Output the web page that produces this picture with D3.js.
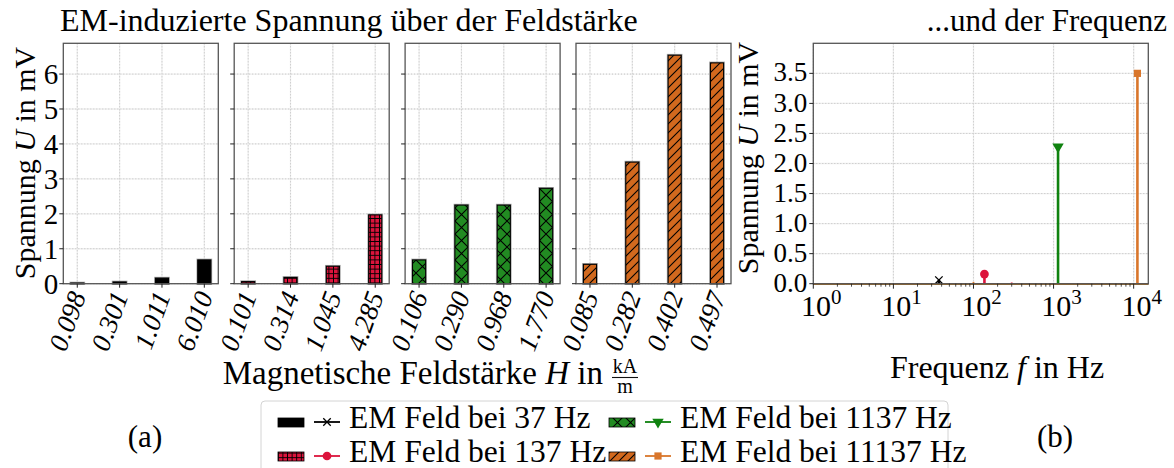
<!DOCTYPE html>
<html>
<head>
<meta charset="utf-8">
<script src="https://cdn.jsdelivr.net/npm/d3@7"></script>
<style>
  body { margin: 0; background: #fff; }
  svg { display: block; font-family: "Liberation Serif", "Times New Roman", serif; }
</style>
</head>
<body>
<svg id="chart" width="1174" height="468"></svg>
<script>
// field strength categories (kA/m) per excitation frequency
const H_37 = ['0.098', '0.301', '1.011', '6.010'];
const H_137 = ['0.101', '0.314', '1.045', '4.285'];
const H_1137 = ['0.106', '0.290', '0.968', '1.770'];
const H_11137 = ['0.085', '0.282', '0.402', '0.497'];

// induced voltage in mV
const U_37 = [0.02, 0.05, 0.16, 0.68];
const U_137 = [0.06, 0.18, 0.50, 1.97];
const U_1137 = [0.68, 2.25, 2.25, 2.73];
const U_11137 = [0.555, 3.48, 6.54, 6.32];

// right plot: voltage over frequency
const FREQS = [37, 137, 1137, 11137];
const U_FREQ = [0.06, 0.16, 2.28, 3.50];
const SMALL_FREQS = [100, 300];
const SMALL_U = [0.03, 0.02];
const SMALL_SERIES = [3, 1];

const SERIES_NAMES = ['EM Feld bei 37 Hz', 'EM Feld bei 137 Hz', 'EM Feld bei 1137 Hz', 'EM Feld bei 11137 Hz'];
const BAR_COLORS = ['#000000', '#dc143c', '#228b22', '#d2691e'];
const STEM_COLORS = ['#000000', '#dc143c', '#0f820f', '#d9762b'];
const HATCHES = [null, 'hatch-plus', 'hatch-x', 'hatch-slash'];

const LEFT_TICKS = d3.range(0, 7);
const RIGHT_TICKS = d3.range(0, 3.51, 0.5);
const LOG_TICKS = [1, 10, 100, 1000, 10000];

const svg= d3.select('#chart');
const TOP= 43.3, BOTTOM= 283.7;
const PANEL_W= 155, PANEL_GAP= 15.9, PANEL_X0= 63.3;
const GRID= '#b8b8b8', FRAME= '#555';

// hatch patterns
const defs= svg.append('defs');
function pattern(id, size, bg, d, sw) {
  const p= defs.append('pattern').attr('id', id)
    .attr('patternUnits', 'userSpaceOnUse')
    .attr('width', size).attr('height', size);
  p.append('rect').attr('width', size).attr('height', size).attr('fill', bg);
  p.append('path').attr('d', d).attr('stroke', '#000').attr('stroke-width', sw).attr('fill', 'none');
}
pattern('hatch-plus', 4.6, BAR_COLORS[1], 'M0,2.3H4.6M2.3,0V4.6', 0.9);
pattern('hatch-x', 13, BAR_COLORS[2], 'M0,0L13,13M13,0L0,13', 1.1);
pattern('hatch-slash', 9, BAR_COLORS[3], 'M0,9L9,0M-2,2L2,-2M7,11L11,7', 1.1);
const fillFor= i => HATCHES[i] ? `url(#${HATCHES[i]})` : BAR_COLORS[i];

function gridLine(g, x1, y1, x2, y2) {
  g.append('line').attr('x1', x1).attr('y1', y1).attr('x2', x2).attr('y2', y2)
    .attr('stroke', '#efefef').attr('stroke-width', 1.3);
  g.append('line').attr('x1', x1).attr('y1', y1).attr('x2', x2).attr('y2', y2)
    .attr('stroke', GRID).attr('stroke-width', 0.8).attr('stroke-dasharray', '1,2');
}

// ---------- left: four bar panels ----------
const yBar= d3.scaleLinear().domain([0, 6.88]).range([BOTTOM, TOP]);
const cats= [H_37, H_137, H_1137, H_11137];
const vals= [U_37, U_137, U_1137, U_11137];

cats.forEach((labels, i) => {
  const x0= PANEL_X0+i*(PANEL_W+PANEL_GAP);
  const x= d3.scaleLinear().domain([-0.33, 3.33]).range([x0, x0+PANEL_W]);
  const bw= x(0.31)-x(0);
  const g= svg.append('g');

  LEFT_TICKS.forEach(t => gridLine(g, x0, yBar(t), x0+PANEL_W, yBar(t)));
  labels.forEach((_, k) => gridLine(g, x(k), TOP, x(k), BOTTOM));

  const data= labels.map((l, k) => ({ k, v: vals[i][k] }));
  g.selectAll('rect.halo').data(data).join('rect')
    .attr('x', d => x(d.k)-bw/2).attr('y', d => yBar(d.v))
    .attr('width', bw).attr('height', d => BOTTOM-yBar(d.v))
    .attr('fill', 'none').attr('stroke', '#aaa').attr('stroke-width', 2.6);
  g.selectAll('rect.bar').data(data).join('rect')
    .attr('x', d => x(d.k)-bw/2).attr('y', d => yBar(d.v))
    .attr('width', bw).attr('height', d => BOTTOM-yBar(d.v))
    .attr('fill', fillFor(i)).attr('stroke', '#000').attr('stroke-width', 1.1);

  g.append('rect').attr('x', x0).attr('y', TOP).attr('width', PANEL_W).attr('height', BOTTOM-TOP)
    .attr('fill', 'none').attr('stroke', FRAME).attr('stroke-width', 1.3);

  // y ticks
  LEFT_TICKS.forEach(t => {
    g.append('line').attr('x1', x0-4).attr('x2', x0).attr('y1', yBar(t)).attr('y2', yBar(t))
      .attr('stroke', '#222').attr('stroke-width', 1);
    if (i === 0) {
      g.append('text').attr('x', x0-5).attr('y', yBar(t)).attr('dy', '0.35em')
        .attr('text-anchor', 'end').attr('font-size', 29).text(t);
    }
  });
  // x ticks + rotated labels
  labels.forEach((l, k) => {
    g.append('line').attr('x1', x(k)).attr('x2', x(k)).attr('y1', BOTTOM).attr('y2', BOTTOM+4)
      .attr('stroke', '#222').attr('stroke-width', 1);
    g.append('text')
      .attr('transform', `translate(${x(k)+9},${BOTTOM+12}) rotate(-70)`)
      .attr('text-anchor', 'end').attr('font-size', 27).attr('font-style', 'italic')
      .text(l);
  });
});

// ---------- right: stems over frequency ----------
const RL= 813.3, RR= 1148.3;
const xf= d3.scaleLog().domain([1, 15230]).range([RL, RR]);
const yf= d3.scaleLinear().domain([0, 4]).range([BOTTOM, TOP]);
const gr= svg.append('g');

RIGHT_TICKS.forEach(t => gridLine(gr, RL, yf(t), RR, yf(t)));
LOG_TICKS.forEach(t => gridLine(gr, xf(t), TOP, xf(t), BOTTOM));

// baselines
STEM_COLORS.forEach(c => {
  gr.append('line').attr('x1', RL).attr('x2', RR).attr('y1', yf(0)).attr('y2', yf(0))
    .attr('stroke', c).attr('stroke-width', 1.6);
});
// small near-zero stems
SMALL_FREQS.forEach((f, j) => {
  gr.append('line').attr('x1', xf(f)).attr('x2', xf(f)).attr('y1', yf(0)).attr('y2', yf(SMALL_U[j]))
    .attr('stroke', STEM_COLORS[SMALL_SERIES[j]]).attr('stroke-width', 1.8);
});

const sym= [d3.symbolX, d3.symbolCircle, d3.symbolTriangle, d3.symbolSquare];
const symSize= [38, 60, 56, 52];
function marker(g, i, cx, cy) {
  const s= g.append('path')
    .attr('d', d3.symbol().type(sym[i]).size(symSize[i])())
    .attr('transform', `translate(${cx},${cy})${i === 2 ? ' rotate(180)' : ''}`);
  if (i === 0) s.attr('fill', 'none').attr('stroke', STEM_COLORS[0]).attr('stroke-width', 1.3);
  else s.attr('fill', STEM_COLORS[i]);
}

FREQS.forEach((f, i) => {
  gr.append('line').attr('x1', xf(f)).attr('x2', xf(f)).attr('y1', yf(0)).attr('y2', yf(U_FREQ[i]))
    .attr('stroke', STEM_COLORS[i]).attr('stroke-width', 2.6);
  marker(gr, i, xf(f), yf(U_FREQ[i]));
});

gr.append('rect').attr('x', RL).attr('y', TOP).attr('width', RR-RL).attr('height', BOTTOM-TOP)
  .attr('fill', 'none').attr('stroke', FRAME).attr('stroke-width', 1.3);

RIGHT_TICKS.forEach(t => {
  gr.append('line').attr('x1', RL-4).attr('x2', RL).attr('y1', yf(t)).attr('y2', yf(t))
    .attr('stroke', '#222').attr('stroke-width', 1);
  gr.append('text').attr('x', RL-6).attr('y', yf(t)).attr('dy', '0.3em')
    .attr('text-anchor', 'end').attr('font-size', 27).text(t.toFixed(1));
});
// minor log ticks
LOG_TICKS.slice(0, -1).forEach(dec => {
  d3.range(2, 10).forEach(m => {
    const v= dec*m;
    gr.append('line').attr('x1', xf(v)).attr('x2', xf(v)).attr('y1', BOTTOM).attr('y2', BOTTOM+3)
      .attr('stroke', '#222').attr('stroke-width', 0.8);
  });
});
LOG_TICKS.forEach((t, k) => {
  gr.append('line').attr('x1', xf(t)).attr('x2', xf(t)).attr('y1', BOTTOM).attr('y2', BOTTOM+5)
    .attr('stroke', '#222').attr('stroke-width', 1);
  const tx= gr.append('text').attr('x', xf(t)+8).attr('y', BOTTOM+32)
    .attr('text-anchor', 'middle').attr('font-size', 30);
  tx.append('tspan').text('10');
  tx.append('tspan').attr('dy', -12).attr('font-size', 21).text(k);
});

// ---------- titles and labels ----------
svg.append('text').attr('x', 60).attr('y', 31).attr('font-size', 32)
  .text('EM-induzierte Spannung über der Feldstärke');
svg.append('text').attr('x', 1167).attr('y', 31).attr('font-size', 31).attr('text-anchor', 'end')
  .text('...und der Frequenz');

function yLabel(x, y) {
  const t= svg.append('text').attr('transform', `translate(${x},${y}) rotate(-90)`)
    .attr('text-anchor', 'middle').attr('font-size', 30);
  t.append('tspan').text('Spannung ');
  t.append('tspan').attr('font-style', 'italic').text('U');
  t.append('tspan').text(' in mV');
}
yLabel(35, 163);
yLabel(758, 158);

const xl= svg.append('text').attr('x', 603).attr('y', 384).attr('text-anchor', 'end').attr('font-size', 33);
xl.append('tspan').text('Magnetische Feldstärke ');
xl.append('tspan').attr('font-style', 'italic').text('H');
xl.append('tspan').text(' in');
svg.append('text').attr('x', 625).attr('y', 373).attr('text-anchor', 'middle').attr('font-size', 20).text('kA');
svg.append('line').attr('x1', 612).attr('x2', 638).attr('y1', 377.5).attr('y2', 377.5)
  .attr('stroke', '#111').attr('stroke-width', 1.1);
svg.append('text').attr('x', 625).attr('y', 393).attr('text-anchor', 'middle').attr('font-size', 20).text('m');

const fl= svg.append('text').attr('x', 997).attr('y', 378).attr('text-anchor', 'middle').attr('font-size', 32);
fl.append('tspan').text('Frequenz ');
fl.append('tspan').attr('font-style', 'italic').text('f');
fl.append('tspan').text(' in Hz');

svg.append('text').attr('x', 145).attr('y', 447).attr('text-anchor', 'middle').attr('font-size', 31).text('(a)');
svg.append('text').attr('x', 1055).attr('y', 447).attr('text-anchor', 'middle').attr('font-size', 31).text('(b)');

// ---------- legend ----------
const lg= svg.append('g');
lg.append('rect').attr('x', 261).attr('y', 401).attr('width', 687).attr('height', 90).attr('rx', 4)
  .attr('fill', '#fff').attr('stroke', '#d4d4d4').attr('stroke-width', 1);
const COL_X= [278, 609], ROW_Y= [428, 462];
SERIES_NAMES.forEach((name, i) => {
  const cx= COL_X[Math.floor(i/2)], by= ROW_Y[i%2];
  lg.append('rect').attr('x', cx).attr('y', by-10).attr('width', 26).attr('height', 9)
    .attr('fill', fillFor(i)).attr('stroke', '#000').attr('stroke-width', 0.8);
  lg.append('line').attr('x1', cx+36).attr('x2', cx+62).attr('y1', by-6).attr('y2', by-6)
    .attr('stroke', STEM_COLORS[i]).attr('stroke-width', 1.8);
  marker(lg, i, cx+49, by-6);
  lg.append('text').attr('x', cx+71).attr('y', by).attr('font-size', 31.5).text(name);
});
</script>
</body>
</html>
